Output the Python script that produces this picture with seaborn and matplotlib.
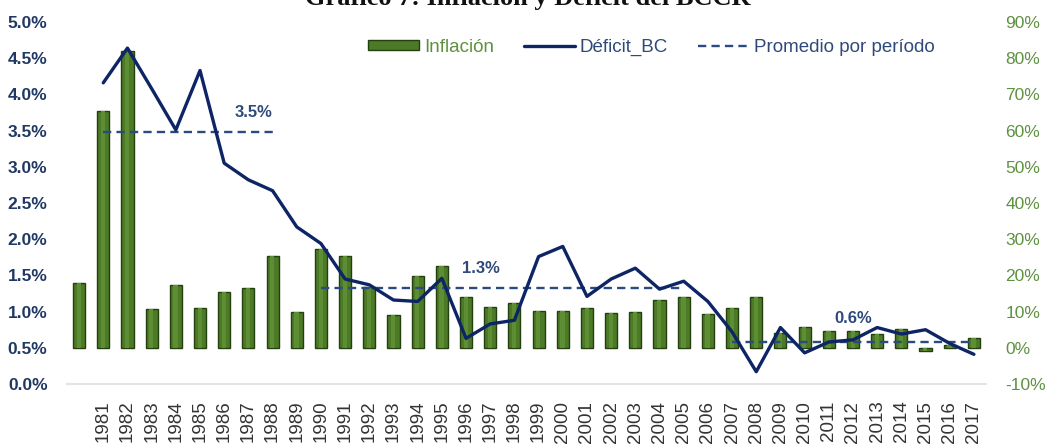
import numpy as np
import pandas as pd
import matplotlib
matplotlib.use("Agg")
import matplotlib.pyplot as plt
import seaborn as sns
from matplotlib.patches import Patch
from matplotlib.lines import Line2D
from matplotlib.ticker import FuncFormatter, FixedLocator

# ---------------- data ----------------
years = list(range(1980, 2018))
year_labels = [""] + [str(y) for y in range(1981, 2018)]
inflacion = [18.0, 65.3, 82.0, 10.6, 17.3, 10.9, 15.5, 16.4, 25.4, 10.0,
             27.3, 25.3, 16.9, 9.0, 19.8, 22.6, 13.9, 11.2, 12.4, 10.2,
             10.3, 10.9, 9.7, 9.9, 13.2, 14.1, 9.3, 10.9, 13.9, 4.1,
             5.8, 4.7, 4.6, 3.7, 5.1, -0.8, 0.8, 2.6]
deficit_years = list(range(1981, 2018))
deficit_bc = [4.16, 4.64, 4.08, 3.51, 4.33, 3.05, 2.82, 2.67, 2.17, 1.94,
              1.45, 1.37, 1.16, 1.14, 1.46, 0.63, 0.83, 0.88, 1.76, 1.90,
              1.21, 1.45, 1.60, 1.31, 1.42, 1.14, 0.72, 0.17, 0.78, 0.43,
              0.58, 0.61, 0.78, 0.69, 0.75, 0.56, 0.41]
period_start = [1981, 1990, 2007]
period_end = [1988, 2005, 2017]
period_avg = [3.48, 1.33, 0.58]

# ---------------- style ----------------
NAVY = "#0E2565"
DASH = "#2B4A80"
GREEN_TXT = "#5E9140"
BAR_FACE = "#4C7A26"
BAR_EDGE = "#23400E"

sns.set_style("white")
plt.rcParams["font.family"] = ["Liberation Sans", "DejaVu Sans"]

fig = plt.figure(figsize=(10.45, 4.44), dpi=100)
ax = fig.add_axes([67 / 1045, 1 - 384 / 444, (986 - 67) / 1045, (384 - 22) / 444])

df_bar = pd.DataFrame({"year": [str(y) for y in years], "inflacion": inflacion})
sns.barplot(data=df_bar, x="year", y="inflacion", ax=ax, color=BAR_FACE,
            width=0.5, saturation=1, edgecolor=BAR_EDGE, linewidth=1.0, zorder=2)
# light inner highlight for bevel look
for p in list(ax.patches):
    x0, w = p.get_x(), p.get_width()
    y0, h = p.get_y(), p.get_height()
    ax.add_patch(plt.Rectangle((x0 + w * 0.3, y0), w * 0.35, h,
                               facecolor="#5E8E34", edgecolor="none", zorder=2.5))

ax.set_ylim(-10, 90)
ax.set_xlim(-0.5, len(years) - 0.5)
ax.set_xticks(range(len(years)))
ax.set_xticklabels(year_labels, rotation=90, fontsize=13.5, color="#333333")
ax.tick_params(axis="x", length=0, pad=12)
ax.set_xlabel("")
ax.set_ylabel("")
for s in ["top", "right", "left"]:
    ax.spines[s].set_visible(False)
ax.spines["bottom"].set_color("#E3E3E3")
ax.spines["bottom"].set_linewidth(1.5)

ax2 = ax.twinx()
ax2.set_zorder(ax.get_zorder() + 1)
ax2.patch.set_visible(False)

# host axis (bars) -> right side ticks
ax.yaxis.tick_right()
ax.yaxis.set_major_locator(FixedLocator(np.arange(-10, 91, 10)))
ax.yaxis.set_major_formatter(FuncFormatter(lambda v, p: f"{v:.0f}%"))
ax.tick_params(axis="y", which="both", left=False, labelleft=False,
               right=False, labelright=True, colors=GREEN_TXT,
               labelsize=12.5, length=0, pad=14)

# twin axis (line) -> left side ticks
ax2.set_ylim(0, 5)
ax2.yaxis.tick_left()
ax2.yaxis.set_major_locator(FixedLocator(np.arange(0, 5.01, 0.5)))
ax2.yaxis.set_major_formatter(FuncFormatter(lambda v, p: f"{v:.1f}%"))
ax2.tick_params(axis="y", which="both", right=False, labelright=False,
                left=False, labelleft=True, colors="#203864",
                labelsize=12.5, length=0, pad=14)
for lab in ax2.get_yticklabels():
    lab.set_fontweight("bold")
for s in ax2.spines.values():
    s.set_visible(False)

pos = {y: i for i, y in enumerate(years)}
df_line = pd.DataFrame({"x": [pos[y] for y in deficit_years], "deficit": deficit_bc})
sns.lineplot(data=df_line, x="x", y="deficit", ax=ax2, color=NAVY, linewidth=2.4,
             zorder=4)

label_x = [7.2, 16.6, 32.0]
label_dy = [0.27, 0.27, 0.33]
for s, e, a, lx, dy in zip(period_start, period_end, period_avg, label_x, label_dy):
    sns.lineplot(x=[pos[s], pos[e]], y=[a, a], ax=ax2, color=DASH,
                 linewidth=1.7, linestyle=(0, (3.5, 2.2)), zorder=3)
    ax2.text(lx, a + dy, f"{a:.1f}%", color="#2E4A7A", fontsize=12,
             fontweight="bold", ha="center", va="center")
ax2.set_xlabel("")
ax2.set_ylabel("")
ax2.set_xlim(-0.5, len(years) - 0.5)

handles = [Patch(facecolor=BAR_FACE, edgecolor=BAR_EDGE),
           Line2D([0], [0], color=NAVY, lw=2.4),
           Line2D([0], [0], color=DASH, lw=1.7, linestyle=(0, (3.5, 2.2)))]
labels = ["Inflación", "Déficit_BC", "Promedio por período"]
leg = ax2.legend(handles, labels, loc="upper center", bbox_to_anchor=(0.636, 1.0),
                 ncol=3, frameon=False, fontsize=13.5, handlelength=2.7,
                 handleheight=0.45, handletextpad=0.27, columnspacing=1.6)
for t, c in zip(leg.get_texts(), [GREEN_TXT, "#2F4A7A", "#2F4A7A"]):
    t.set_color(c)

fig.text(0.505, 1 - 5 / 444, "Gráfico 7: Inflación y Déficit del BCCR",
         ha="center", va="baseline", fontsize=19, fontweight="bold",
         family=["Liberation Serif", "DejaVu Serif"], color="#111111")

fig.savefig("out.png", dpi=100)
